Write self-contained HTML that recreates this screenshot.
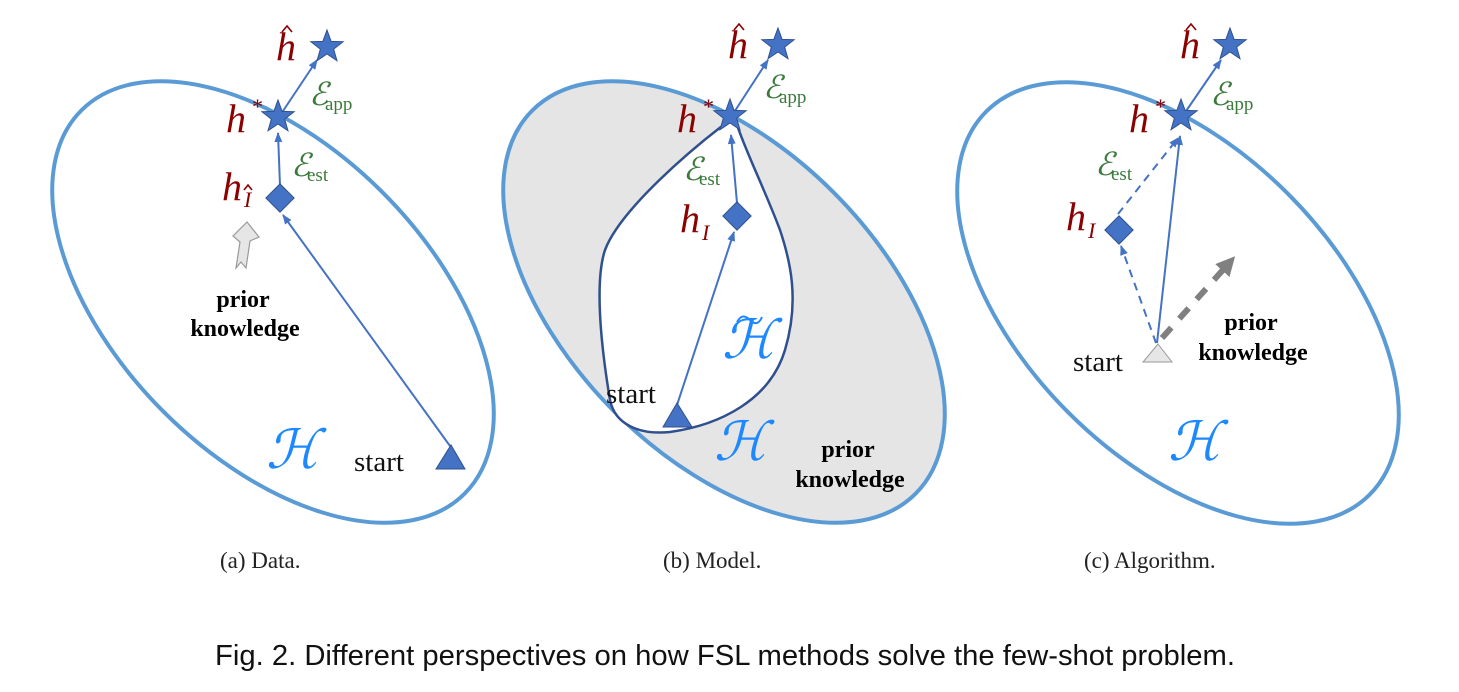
<!DOCTYPE html>
<html><head><meta charset="utf-8"><style>
html,body{margin:0;padding:0;background:#fff;}
svg{display:block;}
.lab{font-family:"Liberation Serif",serif;font-style:italic;fill:#8b0000;}
.err{font-family:"Liberation Serif",serif;font-style:italic;fill:#3a7a3a;}
.sub{font-family:"Liberation Serif",serif;font-size:19px;fill:#3a7a3a;font-style:normal;}
.H{font-family:"Liberation Serif",serif;font-style:italic;fill:#1e88ff;font-size:54px;}
.st{font-family:"Liberation Serif",serif;font-size:29px;fill:#111;}
.pk{font-family:"Liberation Serif",serif;font-weight:bold;font-size:24px;fill:#000;}
.cap{font-family:"Liberation Serif",serif;font-size:23px;fill:#222;}
.hat{fill:none;stroke:#8b0000;stroke-width:1.6;}
</style></head><body>
<svg width="1459" height="692" viewBox="0 0 1459 692" xmlns="http://www.w3.org/2000/svg">
<defs>
<marker id="ar" viewBox="0 0 10 10" refX="9" refY="5" markerWidth="5" markerHeight="5" orient="auto"><path d="M0,1 L10,5 L0,9 z" fill="#4472c4"/></marker>
<marker id="ag" viewBox="0 0 10 10" refX="6" refY="5" markerWidth="3.2" markerHeight="3.2" orient="auto"><path d="M0,0 L10,5 L0,10 z" fill="#808080"/></marker>
</defs>

<ellipse cx="724" cy="302" rx="271" ry="155" transform="rotate(45 724 302)" fill="#e5e5e5" stroke="#5b9bd5" stroke-width="4"/>
<path d="M730,120 C690,150 620,210 605,250 C595,280 600,340 610,400 C615,425 640,435 670,432 C720,425 770,400 785,350 C800,300 790,260 780,230 C765,190 745,150 736,122" fill="#fff" stroke="#2f4f8f" stroke-width="2.5"/>

<ellipse cx="273" cy="302" rx="271" ry="155" transform="rotate(45 273 302)" fill="none" stroke="#5b9bd5" stroke-width="4"/>
<ellipse cx="1178" cy="303" rx="271" ry="155" transform="rotate(45 1178 303)" fill="none" stroke="#5b9bd5" stroke-width="4"/>

<!-- Panel a -->
<line x1="450" y1="446" x2="283" y2="215" stroke="#4472c4" stroke-width="2" marker-end="url(#ar)"/>
<line x1="280" y1="186" x2="278" y2="133" stroke="#4472c4" stroke-width="2" marker-end="url(#ar)"/>
<line x1="279" y1="117" x2="317" y2="60" stroke="#4472c4" stroke-width="2" marker-end="url(#ar)"/>
<polygon points="0,-17 4.11,-5.66 16.17,-5.25 6.66,2.16 9.99,13.75 0,7 -9.99,13.75 -6.66,2.16 -16.17,-5.25 -4.11,-5.66" transform="translate(327,47)" fill="#4472c4" stroke="#2f528f"/>
<polygon points="0,-17 4.11,-5.66 16.17,-5.25 6.66,2.16 9.99,13.75 0,7 -9.99,13.75 -6.66,2.16 -16.17,-5.25 -4.11,-5.66" transform="translate(278,117)" fill="#4472c4" stroke="#2f528f"/>
<rect x="-10" y="-10" width="20" height="20" transform="translate(280,198) rotate(45)" fill="#4472c4" stroke="#2f528f"/>
<polygon points="436,469 465,469 451,445" fill="#4472c4" stroke="#2f528f"/>
<path d="M236,268 L240,242 L233,236 L247,222 L259,237 L250,241 L246,268 L241,262 z" fill="#e6e6e6" stroke="#999" stroke-width="1.2"/>
<text class="lab" x="276" y="60" font-size="40">h</text><path class="hat" d="M282,32 L287,26 L292,32"/>
<text class="lab" x="226" y="132" font-size="40">h</text><text class="lab" x="251" y="114" font-size="22" font-style="normal">*</text>
<text class="lab" x="222" y="200" font-size="40">h</text><text class="lab" x="244" y="207" font-size="22">I</text><path class="hat" d="M244,190 L248,185 L252,190"/>
<text class="err" x="309" y="105" font-size="32">ℰ</text><text class="sub" x="325" y="110">app</text>
<text class="err" x="291" y="176" font-size="32">ℰ</text><text class="sub" x="307" y="181">est</text>
<text class="pk" x="243" y="307" text-anchor="middle">prior</text>
<text class="pk" x="245" y="336" text-anchor="middle">knowledge</text>
<text class="H" x="266" y="468">ℋ</text>
<text class="st" x="354" y="471">start</text>

<!-- Panel b -->
<line x1="677" y1="405" x2="734" y2="232" stroke="#4472c4" stroke-width="2" marker-end="url(#ar)"/>
<line x1="737" y1="203" x2="731" y2="135" stroke="#4472c4" stroke-width="2" marker-end="url(#ar)"/>
<line x1="731" y1="117" x2="768" y2="60" stroke="#4472c4" stroke-width="2" marker-end="url(#ar)"/>
<polygon points="0,-17 4.11,-5.66 16.17,-5.25 6.66,2.16 9.99,13.75 0,7 -9.99,13.75 -6.66,2.16 -16.17,-5.25 -4.11,-5.66" transform="translate(778,45)" fill="#4472c4" stroke="#2f528f"/>
<polygon points="0,-17 4.11,-5.66 16.17,-5.25 6.66,2.16 9.99,13.75 0,7 -9.99,13.75 -6.66,2.16 -16.17,-5.25 -4.11,-5.66" transform="translate(730,116)" fill="#4472c4" stroke="#2f528f"/>
<rect x="-10" y="-10" width="20" height="20" transform="translate(737,216) rotate(45)" fill="#4472c4" stroke="#2f528f"/>
<polygon points="663,427 692,427 677,403" fill="#4472c4" stroke="#2f528f"/>
<text class="lab" x="728" y="58" font-size="40">h</text><path class="hat" d="M734,30 L739,24 L744,30"/>
<text class="lab" x="677" y="132" font-size="40">h</text><text class="lab" x="702" y="114" font-size="22" font-style="normal">*</text>
<text class="lab" x="680" y="232" font-size="40">h</text><text class="lab" x="702" y="240" font-size="22">I</text>
<text class="err" x="763" y="98" font-size="32">ℰ</text><text class="sub" x="779" y="103">app</text>
<text class="err" x="683" y="180" font-size="32">ℰ</text><text class="sub" x="699" y="185">est</text>
<text class="H" x="722" y="358">ℋ</text><path d="M737,322 C741,315 745,315 750,320 C755,325 759,324 762,317" fill="none" stroke="#1e88ff" stroke-width="2"/>
<text class="H" x="714" y="460">ℋ</text>
<text class="st" x="606" y="403">start</text>
<text class="pk" x="848" y="457" text-anchor="middle">prior</text>
<text class="pk" x="850" y="487" text-anchor="middle">knowledge</text>

<!-- Panel c -->
<line x1="1156" y1="343" x2="1121" y2="246" stroke="#4472c4" stroke-width="2" stroke-dasharray="8,6" marker-end="url(#ar)"/>
<line x1="1118" y1="214" x2="1178" y2="138" stroke="#4472c4" stroke-width="2" stroke-dasharray="8,6" marker-end="url(#ar)"/>
<line x1="1157" y1="343" x2="1180" y2="136" stroke="#4472c4" stroke-width="2" marker-end="url(#ar)"/>
<line x1="1182" y1="117" x2="1221" y2="60" stroke="#4472c4" stroke-width="2" marker-end="url(#ar)"/>
<line x1="1162" y1="338" x2="1230" y2="262" stroke="#808080" stroke-width="6" stroke-dasharray="14,12" marker-end="url(#ag)"/>
<polygon points="0,-17 4.11,-5.66 16.17,-5.25 6.66,2.16 9.99,13.75 0,7 -9.99,13.75 -6.66,2.16 -16.17,-5.25 -4.11,-5.66" transform="translate(1230,45)" fill="#4472c4" stroke="#2f528f"/>
<polygon points="0,-17 4.11,-5.66 16.17,-5.25 6.66,2.16 9.99,13.75 0,7 -9.99,13.75 -6.66,2.16 -16.17,-5.25 -4.11,-5.66" transform="translate(1181,116)" fill="#4472c4" stroke="#2f528f"/>
<rect x="-10" y="-10" width="20" height="20" transform="translate(1119,230) rotate(45)" fill="#4472c4" stroke="#2f528f"/>
<polygon points="1143,362 1172,362 1158,344" fill="#e6e6e6" stroke="#999"/>
<text class="lab" x="1180" y="58" font-size="40">h</text><path class="hat" d="M1186,30 L1191,24 L1196,30"/>
<text class="lab" x="1129" y="132" font-size="40">h</text><text class="lab" x="1154" y="114" font-size="22" font-style="normal">*</text>
<text class="lab" x="1066" y="230" font-size="40">h</text><text class="lab" x="1088" y="238" font-size="22">I</text>
<text class="err" x="1210" y="105" font-size="32">ℰ</text><text class="sub" x="1226" y="110">app</text>
<text class="err" x="1095" y="175" font-size="32">ℰ</text><text class="sub" x="1111" y="180">est</text>
<text class="H" x="1168" y="460">ℋ</text>
<text class="st" x="1073" y="371">start</text>
<text class="pk" x="1251" y="330" text-anchor="middle">prior</text>
<text class="pk" x="1253" y="360" text-anchor="middle">knowledge</text>

<!-- Captions -->
<text class="cap" x="220" y="568">(a)  Data.</text>
<text class="cap" x="663" y="568">(b)  Model.</text>
<text class="cap" x="1084" y="568">(c)  Algorithm.</text>
<text x="215" y="665" font-family="Liberation Sans Narrow, Liberation Sans, sans-serif" font-size="29" fill="#111" textLength="1020" lengthAdjust="spacingAndGlyphs">Fig. 2.  Different perspectives on how FSL methods solve the few-shot problem.</text>
</svg>
</body></html>
